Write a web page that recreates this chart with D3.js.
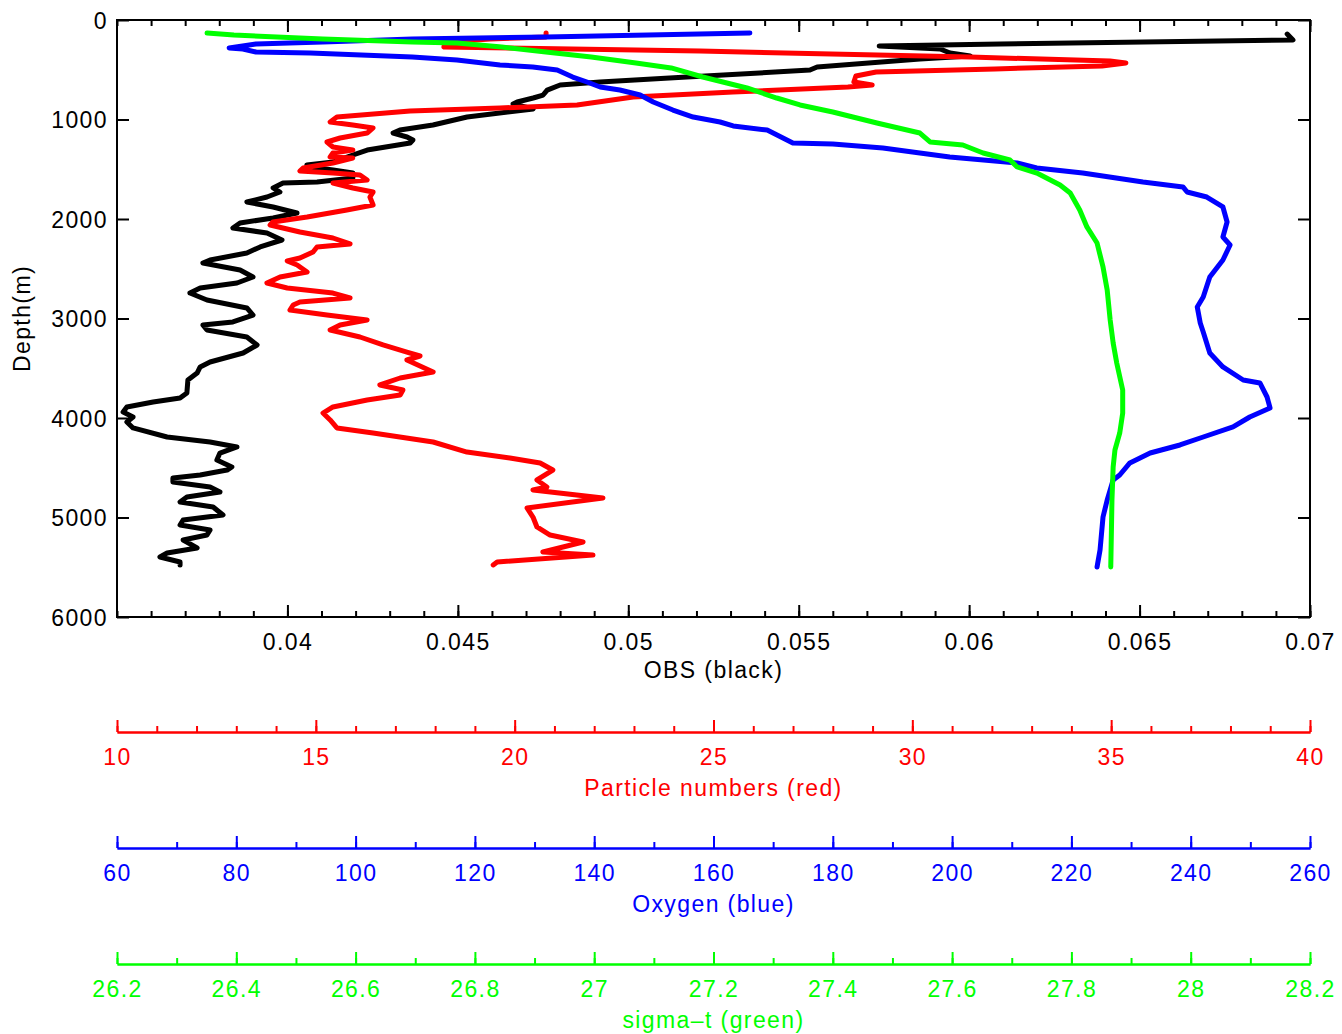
<!DOCTYPE html>
<html>
<head>
<meta charset="utf-8">
<script src="https://cdn.jsdelivr.net/npm/d3@7"></script>
<style>
  html, body { margin: 0; padding: 0; background: #fff; }
  svg text { font-family: "Liberation Sans", Arial, Helvetica, sans-serif; font-size: 23px; letter-spacing: 1.4px; }
</style>
</head>
<body>
<svg id="chart" width="1342" height="1034"></svg>
<script>
// Tick values for the depth axis and the four property axes
const depthTicks = [0, 1000, 2000, 3000, 4000, 5000, 6000];
const obsTicks = [0.04, 0.045, 0.05, 0.055, 0.06, 0.065, 0.07];
const particleTicks = [10, 15, 20, 25, 30, 35, 40];
const oxygenTicks = [60, 80, 100, 120, 140, 160, 180, 200, 220, 240, 260];
const sigmaTicks = [26.2, 26.4, 26.6, 26.8, 27, 27.2, 27.4, 27.6, 27.8, 28, 28.2];

// Profiles: [depth (m), value]
const obsProfile = [
  [141,0.06933],[201,0.06950],[241,0.06091],[261,0.05736],[291,0.05915],[332,0.05944],[362,0.06003],
  [392,0.05856],[472,0.05554],[503,0.05533],[573,0.05172],[623,0.04917],[653,0.04800],[704,0.04762],
  [754,0.04750],[784,0.04721],[824,0.04674],[844,0.04662],[894,0.04721],[975,0.04527],[1055,0.04427],
  [1106,0.04330],[1136,0.04310],[1176,0.04351],[1206,0.04368],[1236,0.04360],[1307,0.04234],[1377,0.04175],
  [1427,0.04134],[1457,0.04057],[1477,0.04066],[1508,0.04134],[1538,0.04192],[1588,0.04192],[1628,0.04087],
  [1638,0.03987],[1688,0.03958],[1729,0.03978],[1779,0.03940],[1829,0.03881],[1879,0.03958],[1940,0.04028],
  [1990,0.03958],[2040,0.03861],[2090,0.03840],[2141,0.03940],[2211,0.03984],[2281,0.03920],[2342,0.03881],
  [2412,0.03773],[2442,0.03752],[2513,0.03861],[2583,0.03899],[2643,0.03852],[2693,0.03744],[2744,0.03714],
  [2814,0.03764],[2894,0.03881],[2965,0.03899],[3035,0.03840],[3065,0.03752],[3116,0.03764],[3186,0.03881],
  [3266,0.03911],[3347,0.03870],[3437,0.03773],[3487,0.03744],[3548,0.03735],[3618,0.03708],[3749,0.03705],
  [3799,0.03685],[3839,0.03606],[3889,0.03529],[3940,0.03518],[3990,0.03547],[4040,0.03529],[4100,0.03547],
  [4191,0.03647],[4241,0.03773],[4291,0.03852],[4352,0.03802],[4422,0.03793],[4492,0.03837],[4523,0.03823],
  [4573,0.03744],[4603,0.03664],[4643,0.03664],[4693,0.03773],[4744,0.03802],[4794,0.03705],[4844,0.03685],
  [4894,0.03782],[4975,0.03811],[5025,0.03694],[5075,0.03685],[5126,0.03773],[5176,0.03764],[5226,0.03694],
  [5306,0.03735],[5357,0.03647],[5397,0.03626],[5447,0.03685],[5477,0.03685]
];

const particleProfile = [
  [131,20.79],[171,20.79],[191,19.38],[221,18.25],[271,18.22],[312,24.66],[372,31.45],[412,34.97],
  [432,35.37],[462,34.77],[492,32.08],[523,29.09],[563,28.58],[623,28.53],[653,28.99],[673,28.38],
  [724,25.49],[774,22.98],[854,21.57],[884,19.63],[915,17.37],[975,15.53],[1025,15.36],[1055,15.93],
  [1085,16.44],[1136,16.29],[1186,15.61],[1226,15.28],[1276,15.43],[1307,15.93],[1337,15.43],[1377,15.36],
  [1387,15.93],[1437,15.43],[1487,14.68],[1518,14.60],[1538,15.43],[1558,16.11],[1608,16.29],[1638,15.43],
  [1688,15.93],[1729,16.44],[1779,16.36],[1859,16.44],[1910,15.78],[1980,14.78],[2030,13.92],[2060,13.85],
  [2131,14.60],[2191,15.43],[2251,15.86],[2281,15.03],[2332,14.93],[2392,14.60],[2422,14.28],[2462,14.53],
  [2533,14.78],[2583,14.10],[2643,13.77],[2693,14.28],[2744,15.43],[2794,15.86],[2834,14.60],[2864,14.43],
  [2915,14.35],[2965,15.28],[3015,16.29],[3065,15.61],[3116,15.36],[3186,16.11],[3266,16.69],[3337,17.29],
  [3377,17.62],[3417,17.29],[3538,17.95],[3598,17.12],[3668,16.61],[3719,17.19],[3769,17.12],[3819,16.29],
  [3889,15.43],[3950,15.18],[4020,15.36],[4100,15.53],[4151,16.44],[4241,17.95],[4342,18.80],[4402,19.88],
  [4452,20.64],[4523,20.96],[4623,20.56],[4693,20.81],[4724,20.46],[4804,22.22],[4904,20.31],[4995,20.46],
  [5095,20.56],[5176,20.89],[5246,21.72],[5347,20.71],[5377,21.97],[5447,19.56],[5477,19.46]
];

const oxygenProfile = [
  [131,166.1],[171,131.9],[191,109.5],[221,94.5],[241,83.3],[281,78.8],[291,81.1],[322,83.3],[332,92.4],
  [372,109.5],[402,117.0],[452,124.2],[472,129.7],[503,133.8],[573,136.4],[623,138.8],[673,141.0],
  [704,144.3],[754,147.7],[824,149.9],[905,153.2],[975,156.6],[1025,161.1],[1065,163.3],[1106,169.0],
  [1236,173.3],[1246,180.0],[1287,188.4],[1337,194.6],[1377,199.6],[1437,210.9],[1487,214.2],[1538,221.9],
  [1628,232.0],[1678,238.7],[1729,239.4],[1779,242.7],[1879,245.4],[2030,246.1],[2181,245.4],[2261,246.6],
  [2412,245.4],[2583,243.2],[2784,242.1],[2884,241.1],[3045,241.6],[3136,242.1],[3347,243.2],[3487,245.4],
  [3618,248.8],[3648,251.6],[3789,252.8],[3899,253.3],[3990,249.9],[4090,247.1],[4191,242.1],[4271,238.2],
  [4352,233.2],[4452,229.8],[4573,228.1],[4623,227.0],[4824,226.0],[4995,225.3],[5327,224.8],[5497,224.3]
];

const sigmaProfile = [
  [131,26.351],[151,26.396],[191,26.545],[221,26.695],[231,26.770],[271,26.845],[322,26.919],[372,26.995],
  [432,27.070],[482,27.129],[573,27.182],[683,27.256],[784,27.306],[854,27.345],[925,27.400],[1035,27.474],
  [1136,27.546],[1226,27.563],[1256,27.618],[1337,27.652],[1407,27.697],[1477,27.709],[1538,27.742],
  [1658,27.781],[1739,27.798],[1910,27.814],[2080,27.826],[2241,27.843],[2482,27.853],[2714,27.860],
  [3015,27.865],[3246,27.870],[3447,27.876],[3719,27.886],[3950,27.886],[4151,27.881],[4322,27.873],
  [4492,27.870],[4824,27.868],[5497,27.866]
];

const svg = d3.select("#chart");
const plotLeft = 117, plotRight = 1310, plotTop = 20, plotBottom = 617;

const y = d3.scaleLinear().domain([0, 6000]).range([plotTop, plotBottom]);
const xObs = d3.scaleLinear().domain([0.035, 0.07]).range([plotLeft, plotRight]);
const xPart = d3.scaleLinear().domain([10, 40]).range([plotLeft, plotRight]);
const xOxy = d3.scaleLinear().domain([60, 260]).range([plotLeft, plotRight]);
const xSig = d3.scaleLinear().domain([26.2, 28.2]).range([plotLeft, plotRight]);

function styleAxis(g, color) {
  g.attr("font-size", null).attr("font-family", null).style("color", color);
  g.selectAll("line").attr("stroke-width", 2);
  g.selectAll("path").attr("stroke-width", 2);
}

// Frame
svg.append("rect")
  .attr("x", plotLeft).attr("y", plotTop)
  .attr("width", plotRight - plotLeft).attr("height", plotBottom - plotTop)
  .attr("fill", "none").attr("stroke", "#000").attr("stroke-width", 2);

// Depth axis (left) with labels, mirrored ticks on the right
const gLeft = svg.append("g").attr("transform", `translate(${plotLeft},0)`)
  .call(d3.axisLeft(y).tickValues(depthTicks).tickSize(-12).tickSizeOuter(0).tickPadding(9).tickFormat(d => String(d)));
styleAxis(gLeft, "#000");
gLeft.select(".domain").remove();
gLeft.selectAll("text").attr("dy", "0.35em");

const gRight = svg.append("g").attr("transform", `translate(${plotRight},0)`)
  .call(d3.axisRight(y).tickValues(depthTicks).tickSize(-12).tickSizeOuter(0).tickFormat(""));
styleAxis(gRight, "#000");
gRight.select(".domain").remove();

svg.append("text")
  .attr("transform", `translate(30,${(plotTop + plotBottom) / 2}) rotate(-90)`)
  .attr("text-anchor", "middle").attr("fill", "#000")
  .text("Depth(m)");

// OBS axis on the bottom of the frame, mirrored on the top
function frameAxis(axisFn, pos, labelled) {
  const gMinor = svg.append("g").attr("transform", `translate(0,${pos})`)
    .call(axisFn(xObs).ticks(35).tickSize(-6).tickSizeOuter(0).tickFormat(""));
  styleAxis(gMinor, "#000");
  gMinor.select(".domain").remove();
  const gMajor = svg.append("g").attr("transform", `translate(0,${pos})`)
    .call(axisFn(xObs).tickValues(obsTicks).tickSize(-12).tickSizeOuter(0)
      .tickFormat(labelled ? (d => String(d)) : ""));
  styleAxis(gMajor, "#000");
  gMajor.select(".domain").remove();
  if (labelled) gMajor.selectAll("text").attr("y", 33).attr("dy", null);
}
frameAxis(d3.axisBottom, plotBottom, true);
frameAxis(d3.axisTop, plotTop, false);

svg.append("text")
  .attr("x", (plotLeft + plotRight) / 2).attr("y", 678)
  .attr("text-anchor", "middle").attr("fill", "#000")
  .text("OBS (black)");

// Detached axes for the other three properties
function propertyAxis(scale, majors, minorCount, pos, color, title) {
  const gMinor = svg.append("g").attr("transform", `translate(0,${pos})`)
    .call(d3.axisBottom(scale).ticks(minorCount).tickSize(-6).tickSizeOuter(0).tickFormat(""));
  styleAxis(gMinor, color);
  const gMajor = svg.append("g").attr("transform", `translate(0,${pos})`)
    .call(d3.axisBottom(scale).tickValues(majors).tickSize(-12).tickSizeOuter(0).tickFormat(d => String(d)));
  styleAxis(gMajor, color);
  gMajor.selectAll("text").attr("y", 33).attr("dy", null);
  svg.append("text")
    .attr("x", (plotLeft + plotRight) / 2).attr("y", pos + 64)
    .attr("text-anchor", "middle").attr("fill", color)
    .text(title);
}
propertyAxis(xPart, particleTicks, 30, 732, "#ff0000", "Particle numbers (red)");
propertyAxis(xOxy, oxygenTicks, 20, 848, "#0000ff", "Oxygen (blue)");
propertyAxis(xSig, sigmaTicks, 20, 964, "#00ff00", "sigma\u2013t (green)");

// Profiles
function profile(data, xs, color) {
  svg.append("path")
    .datum(data)
    .attr("fill", "none")
    .attr("stroke", color)
    .attr("stroke-width", 5)
    .attr("stroke-linejoin", "round")
    .attr("stroke-linecap", "round")
    .attr("d", d3.line().x(d => xs(d[1])).y(d => y(d[0])));
}
profile(obsProfile, xObs, "#000000");
profile(particleProfile, xPart, "#ff0000");
profile(oxygenProfile, xOxy, "#0000ff");
profile(sigmaProfile, xSig, "#00ff00");
</script>
</body>
</html>
